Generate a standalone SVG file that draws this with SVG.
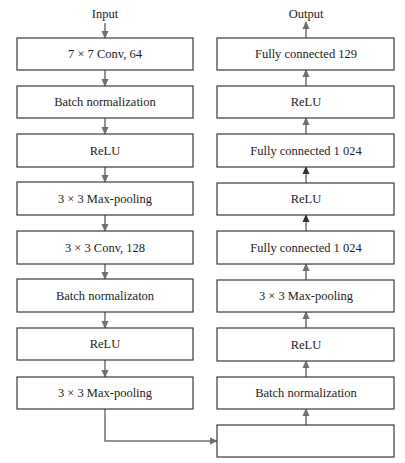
<svg xmlns="http://www.w3.org/2000/svg" width="405" height="463" viewBox="0 0 405 463">
<defs>
<marker id="ah" markerWidth="8" markerHeight="8" refX="7" refY="4" orient="auto" markerUnits="userSpaceOnUse"><path d="M0,0.5 L8,4 L0,7.5 Z" fill="#707070"/></marker>
<marker id="ahd" markerWidth="8" markerHeight="8" refX="7" refY="4" orient="auto" markerUnits="userSpaceOnUse"><path d="M0,0.5 L8,4 L0,7.5 Z" fill="#333"/></marker>
</defs>
<style>
.b{fill:#fff;stroke:#3a3a3a;stroke-width:1.2}
.t{font-family:"Liberation Serif","Times New Roman",serif;font-size:12.5px;fill:#222;text-anchor:middle}
.c{fill:none;stroke:#707070;stroke-width:1.5;marker-end:url(#ah)}
.d{fill:none;stroke:#707070;stroke-width:1.5;marker-end:url(#ahd)}
</style>
<rect width="405" height="463" fill="#fff"/>
<text class="t" x="105" y="18">Input</text>
<text class="t" x="306" y="18">Output</text>
<g id="connectors">
<path class="c" d="M105,23 V38"/>
<path class="c" d="M105,70 V86"/>
<path class="c" d="M105,118 V134"/>
<path class="c" d="M105,167 V182"/>
<path class="c" d="M105,215 V231"/>
<path class="c" d="M105,264 V279"/>
<path class="c" d="M105,312 V328"/>
<path class="c" d="M105,360 V377"/>
<path class="c" d="M105,409 V441 H217"/>
<path class="c" d="M306,425 V409"/>
<path class="c" d="M306,377 V361"/>
<path class="c" d="M306,328 V312"/>
<path class="c" d="M306,280 V264"/>
<path class="d" d="M306,231 V215"/>
<path class="d" d="M306,183 V167"/>
<path class="c" d="M306,134 V118"/>
<path class="c" d="M306,86 V70"/>
<path class="c" d="M306,38 V22"/>
</g>
<g id="l1"><rect class="b" x="17" y="38" width="176" height="32"/><text class="t" x="105" y="58">7 × 7 Conv, 64</text></g>
<g id="l2"><rect class="b" x="17" y="86" width="176" height="32"/><text class="t" x="105" y="106">Batch normalization</text></g>
<g id="l3"><rect class="b" x="17" y="134" width="176" height="33"/><text class="t" x="105" y="155">ReLU</text></g>
<g id="l4"><rect class="b" x="17" y="182" width="176" height="33"/><text class="t" x="105" y="203">3 × 3 Max-pooling</text></g>
<g id="l5"><rect class="b" x="17" y="231" width="176" height="33"/><text class="t" x="105" y="252">3 × 3 Conv, 128</text></g>
<g id="l6"><rect class="b" x="17" y="279" width="176" height="33"/><text class="t" x="105" y="300">Batch normalizaton</text></g>
<g id="l7"><rect class="b" x="17" y="328" width="176" height="32"/><text class="t" x="105" y="348">ReLU</text></g>
<g id="l8"><rect class="b" x="17" y="377" width="176" height="32"/><text class="t" x="105" y="397">3 × 3 Max-pooling</text></g>
<g id="r1"><rect class="b" x="217" y="38" width="177" height="32"/><text class="t" x="306" y="58">Fully connected 129</text></g>
<g id="r2"><rect class="b" x="217" y="86" width="177" height="32"/><text class="t" x="306" y="106">ReLU</text></g>
<g id="r3"><rect class="b" x="217" y="134" width="177" height="33"/><text class="t" x="306" y="155">Fully connected 1 024</text></g>
<g id="r4"><rect class="b" x="217" y="183" width="177" height="32"/><text class="t" x="306" y="203">ReLU</text></g>
<g id="r5"><rect class="b" x="217" y="231" width="177" height="33"/><text class="t" x="306" y="252">Fully connected 1 024</text></g>
<g id="r6"><rect class="b" x="217" y="280" width="177" height="32"/><text class="t" x="306" y="300">3 × 3 Max-pooling</text></g>
<g id="r7"><rect class="b" x="217" y="328" width="177" height="33"/><text class="t" x="306" y="349">ReLU</text></g>
<g id="r8"><rect class="b" x="217" y="377" width="177" height="32"/><text class="t" x="306" y="397">Batch normalization</text></g>
<g id="r9"><rect class="b" x="217" y="425" width="177" height="32"/></g>
</svg>
